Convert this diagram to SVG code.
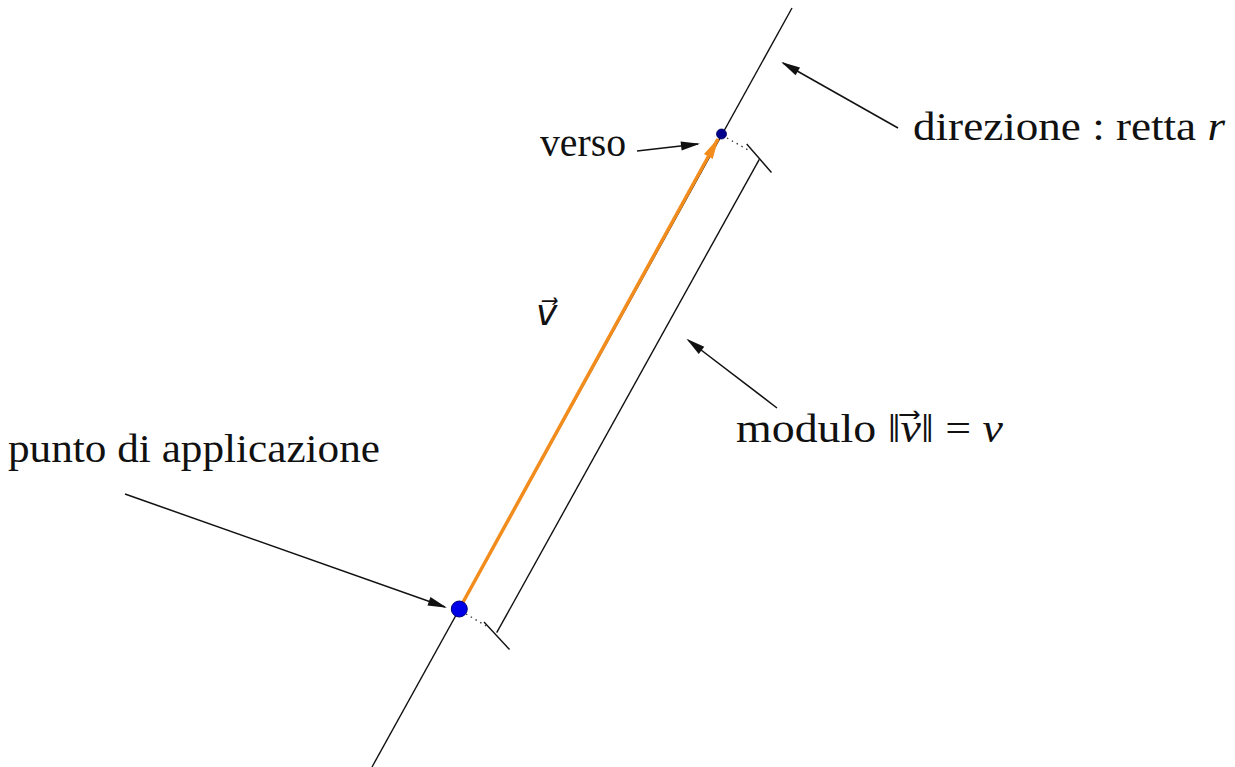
<svg xmlns="http://www.w3.org/2000/svg" width="1235" height="767" viewBox="0 0 1235 767">
<defs>
<style>
.lbl{font-family:"Liberation Serif","DejaVu Serif",serif;font-size:41px;fill:#111}
.it{font-style:italic}
.vec{font-family:"DejaVu Serif","DejaVu Sans",serif;font-style:italic;font-size:36px;fill:#111}
.ln{stroke:#111;stroke-width:1.4;fill:none}
.pt{stroke:#111;stroke-width:1.5;fill:none;marker-end:url(#ah)}
.dot{stroke:#333;stroke-width:1.3;stroke-dasharray:1.5 4;fill:none}
</style>
<marker id="ah" markerUnits="userSpaceOnUse" markerWidth="20" markerHeight="10" refX="17" refY="5" orient="auto" overflow="visible">
<path d="M0,0.5 L19,5 L0,9.5 z" fill="#111"/>
</marker>
<marker id="oh" markerUnits="userSpaceOnUse" markerWidth="22" markerHeight="12" refX="20" refY="5" orient="auto" overflow="visible">
<path d="M0,0 L21,5 L0,10 z" fill="#f28c1c"/>
</marker>
</defs>
<rect width="1235" height="767" fill="#fff"/>
<g id="connectors">
<line id="retta" class="ln" x1="372" y1="767" x2="792" y2="8"/>
<line id="modulo-line" class="ln" x1="496.7" y1="632.7" x2="759.3" y2="159.3"/>
<line class="ln" x1="484" y1="622" x2="509.5" y2="649.5"/>
<line class="ln" x1="746.7" y1="144" x2="771.5" y2="172.5"/>
<line class="dot" x1="466" y1="614" x2="488" y2="627"/>
<line class="dot" x1="727" y1="138" x2="750" y2="151"/>
<line id="vec" x1="459.3" y1="609" x2="718" y2="139" stroke="#f28c1c" stroke-width="3.5" marker-end="url(#oh)"/>
<line class="pt" x1="125" y1="494" x2="445" y2="607"/>
<line class="pt" x1="637" y1="151" x2="698" y2="144"/>
<line class="pt" x1="898" y1="128" x2="783" y2="63"/>
<line class="pt" x1="777" y1="408" x2="688" y2="340"/>
</g>
<g id="punto-applicazione">
<circle cx="459.3" cy="609" r="8" fill="#0000e8" stroke="#00007a" stroke-width="1"/>
<text class="lbl" x="8" y="462" textLength="372" lengthAdjust="spacingAndGlyphs">punto di applicazione</text>
</g>
<g id="verso">
<circle cx="721.5" cy="134" r="5" fill="#00008c" stroke="#000060" stroke-width="0.8"/>
<text class="lbl" x="540" y="156" textLength="86" lengthAdjust="spacingAndGlyphs">verso</text>
</g>
<g id="direzione">
<text class="lbl" x="913" y="140" textLength="312" lengthAdjust="spacingAndGlyphs">direzione :  retta <tspan class="it">r</tspan></text>
</g>
<g id="modulo">
<text class="lbl" x="736" y="442" textLength="267" lengthAdjust="spacingAndGlyphs">modulo ‖<tspan class="it">v</tspan>⃗‖ = <tspan class="it">v</tspan></text>
</g>
<g id="vettore">
<text class="vec" x="536" y="325">v⃗</text>
</g>
</svg>
